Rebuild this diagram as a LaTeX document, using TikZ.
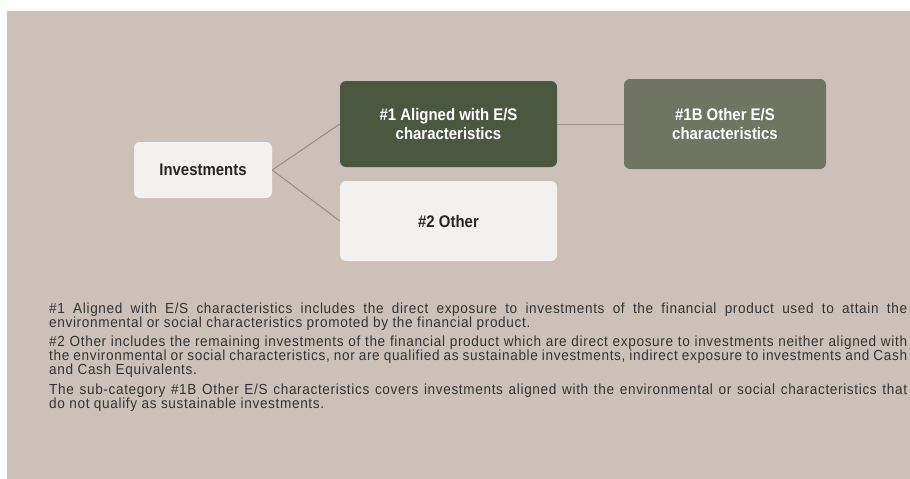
\documentclass[tikz,border=0pt]{standalone}
\usepackage{fontspec}
\setmainfont{Liberation Sans}
\newfontfamily\nodefont[FakeStretch=0.89]{Liberation Sans Bold}
\newfontfamily\parafont[FakeStretch=0.93,LetterSpace=4.5]{Liberation Sans}
\definecolor{bgc}{HTML}{CBC1B8}
\definecolor{lightbox}{HTML}{F3F1EF}
\definecolor{darkbox}{HTML}{4B573E}
\definecolor{midbox}{HTML}{6F7560}
\definecolor{connc}{HTML}{9B8F88}
\definecolor{darktext}{HTML}{262626}
\definecolor{paratext}{HTML}{333333}
\tikzset{
  box/.style={rectangle, rounded corners=6pt, inner sep=0pt, align=center,
    font=\nodefont\fontsize{16.8}{18.5}\selectfont},
  lightnode/.style={box, fill=lightbox, text=darktext},
  darknode/.style={box, fill=darkbox, text=white},
  midnode/.style={box, fill=midbox, text=white},
  conn/.style={draw=connc, line width=1pt},
  para/.style={anchor=base west, inner sep=0pt, text=paratext,
    font=\parafont\fontsize{14.6}{14}\selectfont},
}
\newcommand{\jline}[1]{\makebox[858pt][s]{\frenchspacing\spaceskip=3.8pt plus 30pt minus 2.4pt #1}}
\newcommand{\nline}[1]{{\frenchspacing #1}}
\begin{document}
\begin{tikzpicture}[x=1pt,y=-1pt]
\useasboundingbox (0,0) rectangle (910,479);
\fill[bgc] (7,11) rectangle (910,479);

\node[lightnode, minimum width=138pt, minimum height=56pt] (inv) at (203,170) {Investments};
\node[darknode, minimum width=217pt, minimum height=86pt] (a1) at (448.5,124) {\#1 Aligned with E/S\\characteristics};
\node[lightnode, minimum width=217pt, minimum height=80pt] (o2) at (448.5,221) {\#2 Other};
\node[midnode, minimum width=202pt, minimum height=90pt] (b1) at (725,124) {\#1B Other E/S\\characteristics};

\draw[conn] (inv.east) -- (a1.west);
\draw[conn] (inv.east) -- (o2.west);
\draw[conn] (a1.east) -- (b1.west);

\node[para] (p1a) at (49,313) {\jline{\#1 Aligned with E/S characteristics includes the direct exposure to investments of the financial product used to attain the}};
\node[para] (p1b) at (49,327) {\nline{environmental or social characteristics promoted by the financial product.}};
\node[para] (p2a) at (49,346.5) {\jline{\#2 Other includes the remaining investments of the financial product which are direct exposure to investments neither aligned with}};
\node[para] (p2b) at (49,360.5) {\jline{the environmental or social characteristics, nor are qualified as sustainable investments, indirect exposure to investments and Cash}};
\node[para] (p2c) at (49,374.5) {\nline{and Cash Equivalents.}};
\node[para] (p3a) at (49,394) {\jline{The sub-category \#1B Other E/S characteristics covers investments aligned with the environmental or social characteristics that}};
\node[para] (p3b) at (49,408) {\nline{do not qualify as sustainable investments.}};
\end{tikzpicture}
\end{document}
